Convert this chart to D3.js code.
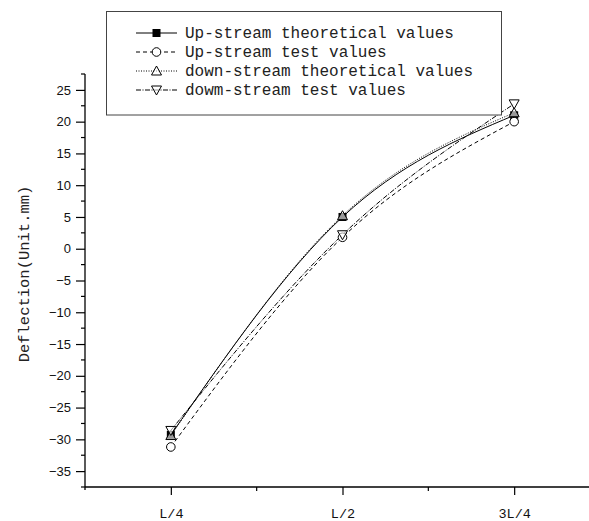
<!DOCTYPE html>
<html>
<head>
<meta charset="utf-8">
<script src="https://d3js.org/d3.v7.min.js"></script>
<style>
  body { margin: 0; background: #fff; }
  svg { display: block; }
  .mono { font-family: "Courier New", "Liberation Mono", monospace; }
  .sans { font-family: Arial, "Liberation Sans", sans-serif; }
</style>
</head>
<body>
<div id="chart"></div>
<script>
// data
var positions = ["L/4", "L/2", "3L/4"];
var upTheo   = [-29.3, 5.0, 21.0];
var upTest   = [-31.2, 1.8, 20.0];
var downTheo = [-29.4, 5.2, 21.4];
var downTest = [-28.6, 2.2, 22.8];
var yTicks = [-35, -30, -25, -20, -15, -10, -5, 0, 5, 10, 15, 20, 25];
var seriesNames = ["Up-stream theoretical values", "Up-stream test values",
                   "down-stream theoretical values", "dowm-stream test values"];

var width = 589, height = 521;
var svg = d3.select("#chart").append("svg")
    .attr("width", width).attr("height", height);

var xscale = d3.scaleLinear().domain([0.5, 3.5]).range([85, 600]);
var yscale = d3.scaleLinear().domain([-37.5, 27.5]).range([487, 74]);

// y axis
var yAxis = d3.axisLeft(yscale).tickValues(yTicks).tickSize(9).tickPadding(5);
var gy = svg.append("g").attr("transform", "translate(85,0)").call(yAxis);
gy.select(".domain").attr("d", "M0,74V490").attr("stroke", "#000").attr("stroke-width", 1.3);
gy.selectAll(".tick line").attr("stroke", "#000").attr("stroke-width", 1.2);
gy.selectAll(".tick text").attr("class", "sans").style("font-size", "13px").attr("fill", "#111");
// minor y ticks
var minorY = d3.range(-37.5, 27.6, 5);
gy.selectAll(".minor").data(minorY).enter().append("line")
    .attr("x1", -4).attr("x2", 0)
    .attr("y1", function(d){ return yscale(d); })
    .attr("y2", function(d){ return yscale(d); })
    .attr("stroke", "#000").attr("stroke-width", 1.2);

// x axis
var xAxis = d3.axisBottom(xscale).tickValues([1, 2, 3])
    .tickFormat(function(d){ return positions[d - 1]; })
    .tickSize(8).tickPadding(13);
var gx = svg.append("g").attr("transform", "translate(0,487)").call(xAxis);
gx.select(".domain").attr("d", "M85,0H600").attr("stroke", "#000").attr("stroke-width", 1.3);
gx.selectAll(".tick line").attr("stroke", "#000").attr("stroke-width", 1.2);
gx.selectAll(".tick text").attr("class", "mono").style("font-size", "13.5px").attr("fill", "#111");
var minorX = [1.5, 2.5, 3.5];
gx.selectAll(".minor").data(minorX).enter().append("line")
    .attr("x1", function(d){ return xscale(d); })
    .attr("x2", function(d){ return xscale(d); })
    .attr("y1", 0).attr("y2", 4)
    .attr("stroke", "#000").attr("stroke-width", 1.2);

// y title
svg.append("text").attr("class", "mono")
    .attr("transform", "translate(29,274) rotate(-90)")
    .attr("text-anchor", "middle")
    .style("font-size", "15.5px").attr("fill", "#222")
    .text("Deflection(Unit.mm)");

var series = [
  { vals: upTheo,   dash: null,        sym: "square" },
  { vals: upTest,   dash: "4,3",       sym: "circle" },
  { vals: downTheo, dash: "1,1.5",     sym: "up" },
  { vals: downTest, dash: "5,1.5,1,1.5", sym: "down" }
];

var line = d3.line()
    .x(function(d, i){ return xscale(i + 1); })
    .y(function(d){ return yscale(d); })
    .curve(d3.curveNatural);

series.forEach(function(s){
  svg.append("path").attr("d", line(s.vals))
    .attr("fill", "none").attr("stroke", "#000").attr("stroke-width", 1)
    .attr("stroke-dasharray", s.dash);
});

function drawSymbol(g, sym, x, y){
  if (sym === "square") {
    g.append("rect").attr("x", x - 4).attr("y", y - 4).attr("width", 8).attr("height", 8)
      .attr("fill", "#000");
  } else if (sym === "circle") {
    g.append("circle").attr("cx", x).attr("cy", y).attr("r", 4.3)
      .attr("fill", "#fff").attr("stroke", "#000").attr("stroke-width", 1);
  } else if (sym === "up") {
    g.append("path").attr("d", "M" + x + "," + (y - 5) + "L" + (x + 5) + "," + (y + 4) + "L" + (x - 5) + "," + (y + 4) + "Z")
      .attr("fill", "#fff").attr("fill-opacity", 0.6).attr("stroke", "#000").attr("stroke-width", 1);
  } else {
    g.append("path").attr("d", "M" + x + "," + (y + 5) + "L" + (x + 5) + "," + (y - 4) + "L" + (x - 5) + "," + (y - 4) + "Z")
      .attr("fill", "#fff").attr("fill-opacity", 0.6).attr("stroke", "#000").attr("stroke-width", 1);
  }
}

var marks = svg.append("g");
series.forEach(function(s){
  s.vals.forEach(function(v, i){
    drawSymbol(marks, s.sym, xscale(i + 1), yscale(v));
  });
});

// legend
var lg = svg.append("g");
lg.append("rect").attr("x", 106.5).attr("y", 11.5).attr("width", 395).attr("height", 103.5)
  .attr("fill", "#fff").attr("stroke", "#444").attr("stroke-width", 1);
series.forEach(function(s, i){
  var y = 33 + i * 19;
  lg.append("line").attr("x1", 136).attr("x2", 177).attr("y1", y).attr("y2", y)
    .attr("stroke", "#000").attr("stroke-width", 1).attr("stroke-dasharray", s.dash);
  drawSymbol(lg, s.sym, 156.5, y);
  lg.append("text").attr("class", "mono").attr("x", 185).attr("y", y + 5)
    .style("font-size", "16px").attr("fill", "#222").text(seriesNames[i]);
});
</script>
</body>
</html>
